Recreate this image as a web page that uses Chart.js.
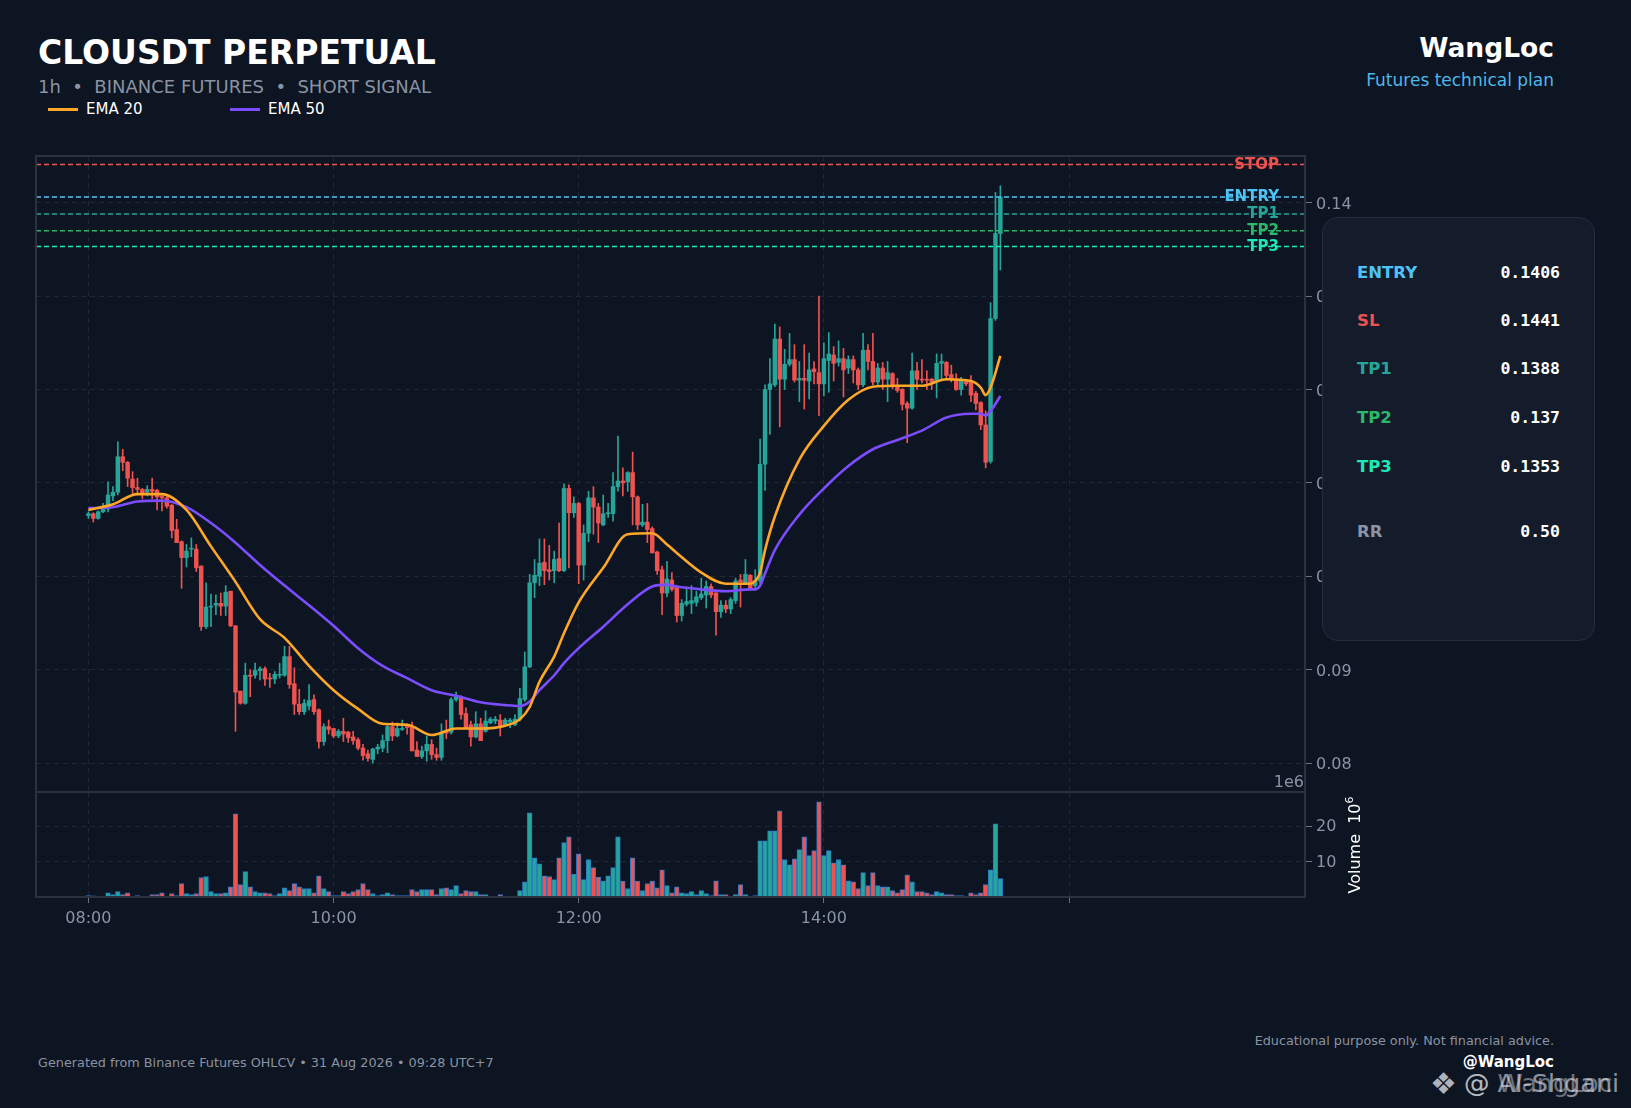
<!DOCTYPE html>
<html>
<head>
<meta charset="utf-8">
<script src="https://cdn.jsdelivr.net/npm/chart.js@4.4.1/dist/chart.umd.min.js"></script>
<style>
  html, body { margin: 0; padding: 0; background: #0d1422; width: 1631px; height: 1108px; overflow: hidden; font-family: 'DejaVu Sans', sans-serif; }
  .t { position: absolute; white-space: nowrap; line-height: 1; }
  .wrap { position: absolute; }
  #panel { position: absolute; left: 1322px; top: 217px; width: 273px; height: 424px; box-sizing: border-box;
           background: #141b2a; border: 1.5px solid #262e3e; border-radius: 16px; }
  #panel .row { position: absolute; left: 34px; right: 34px; height: 17px; font-size: 16.5px; font-weight: bold; line-height: 1; }
  #panel .row .v { position: absolute; right: 0; top: 0; color: #fff; font-family: 'DejaVu Sans Mono', monospace; }
  .leg { position: absolute; height: 3px; width: 30px; }
</style>
</head>
<body>

<div class="t" style="left:38px; top:36px; font-size:33px; font-weight:bold; color:#fff;">CLOUSDT PERPETUAL</div>
<div class="t" style="left:38px; top:78px; font-size:18px; color:#8b93a1;">1h&nbsp; •&nbsp; BINANCE FUTURES&nbsp; •&nbsp; SHORT SIGNAL</div>
<div class="leg" style="left:48px; top:108px; background:#ffa726;"></div>
<div class="t" style="left:86px; top:102px; font-size:15px; color:#fff;">EMA 20</div>
<div class="leg" style="left:230px; top:108px; background:#7c4dff;"></div>
<div class="t" style="left:268px; top:102px; font-size:15px; color:#fff;">EMA 50</div>

<div class="t" style="right:77px; top:35px; font-size:26.5px; font-weight:bold; color:#fff;">WangLoc</div>
<div class="t" style="right:77px; top:72px; font-size:17px; color:#4cb8ea;">Futures technical plan</div>

<div class="wrap" style="left:26px; top:150px;"><canvas id="price" width="1379" height="642"></canvas></div>
<div class="wrap" style="left:26px; top:792px;"><canvas id="vol" width="1379" height="145"></canvas></div>

<div class="t" style="right:327px; top:774px; font-size:16px; color:#8b94a5;">1e6</div>
<div class="t" style="left:1355px; top:845px; font-size:16px; color:#fff; transform:translate(-50%,-50%) rotate(-90deg);">Volume&nbsp; 10<span style="font-size:11px; position:relative; top:-7px;">6</span></div>

<div id="panel"></div>

<div class="t" style="left:38px; top:1057px; font-size:12.8px; color:#8b93a1;">Generated from Binance Futures OHLCV • 31 Aug 2026 • 09:28 UTC+7</div>
<div class="t" style="right:77px; top:1035px; font-size:12.8px; color:#8b93a1;">Educational purpose only. Not financial advice.</div>
<div class="t" style="right:77px; top:1055px; font-size:15px; font-weight:bold; color:#fff;">@WangLoc</div>
<div class="t" style="left:1430px; top:1069px; font-size:30px; color:rgba(230,232,238,0.75);">❖</div>
<div class="t" style="left:1464px; top:1071px; font-size:25.5px; color:rgba(230,232,238,0.6);">@ AI-Shgani</div>
<div class="t" style="left:1464px; top:1071px; font-size:25.5px; color:rgba(230,232,238,0.45);">@ WangLoc</div>

<script>
// candles (1 bar per step, index 0 = 08:00)
const opens = [
  0.1065,0.1067,0.1062,0.1069,0.1072,0.1086,0.1090,0.1128,0.1122,0.1104,
  0.1095,0.1093,0.1090,0.1093,0.1092,0.1086,0.1084,0.1076,0.1050,0.1037,
  0.1020,0.1029,0.1029,0.1011,0.0946,0.0967,0.0969,0.0971,0.0968,0.0984,
  0.0947,0.0877,0.0864,0.0894,0.0894,0.0899,0.0901,0.0891,0.0890,0.0894,
  0.0894,0.0914,0.0885,0.0863,0.0855,0.0861,0.0868,0.0857,0.0823,0.0839,
  0.0837,0.0829,0.0834,0.0833,0.0828,0.0825,0.0816,0.0810,0.0804,0.0815,
  0.0816,0.0824,0.0839,0.0829,0.0836,0.0840,0.0839,0.0814,0.0807,0.0813,
  0.0820,0.0809,0.0806,0.0834,0.0833,0.0868,0.0870,0.0853,0.0841,0.0828,
  0.0842,0.0834,0.0843,0.0845,0.0846,0.0841,0.0844,0.0841,0.0847,0.0868,
  0.0903,0.0993,0.1000,0.1015,0.1007,0.1006,0.1019,0.1006,0.1094,0.1068,
  0.1078,0.1012,0.1046,0.1084,0.1074,0.1055,0.1067,0.1067,0.1096,0.1102,
  0.1101,0.1111,0.1085,0.1055,0.1058,0.1051,0.1026,0.1007,0.0982,0.0996,
  0.0989,0.0958,0.0970,0.0971,0.0972,0.0977,0.0980,0.0989,0.0982,0.0962,
  0.0969,0.0965,0.0974,0.0996,0.0992,0.1001,0.0990,0.0995,0.1120,0.1200,
  0.1205,0.1254,0.1211,0.1227,0.1232,0.1210,0.1212,0.1209,0.1222,0.1218,
  0.1206,0.1231,0.1237,0.1229,0.1233,0.1223,0.1232,0.1221,0.1205,0.1242,
  0.1230,0.1208,0.1223,0.1211,0.1217,0.1204,0.1200,0.1185,0.1180,0.1220,
  0.1211,0.1211,0.1211,0.1209,0.1228,0.1229,0.1216,0.1211,0.1200,0.1210,
  0.1208,0.1196,0.1186,0.1162,0.1123,0.1276,0.1367
];
const highs = [
  0.1069,0.1068,0.1070,0.1078,0.1101,0.1096,0.1144,0.1136,0.1123,0.1112,
  0.1105,0.1094,0.1097,0.1105,0.1093,0.1086,0.1086,0.1077,0.1061,0.1038,
  0.1034,0.1041,0.1034,0.1011,0.0993,0.0981,0.0980,0.0982,0.0990,0.0984,
  0.0947,0.0877,0.0907,0.0900,0.0907,0.0903,0.0903,0.0896,0.0898,0.0907,
  0.0925,0.0925,0.0902,0.0879,0.0868,0.0884,0.0873,0.0858,0.0842,0.0846,
  0.0837,0.0836,0.0848,0.0834,0.0834,0.0827,0.0820,0.0814,0.0816,0.0820,
  0.0830,0.0841,0.0844,0.0843,0.0846,0.0842,0.0844,0.0823,0.0818,0.0829,
  0.0825,0.0816,0.0842,0.0846,0.0870,0.0876,0.0872,0.0859,0.0845,0.0855,
  0.0848,0.0856,0.0849,0.0850,0.0852,0.0848,0.0848,0.0852,0.0880,0.0919,
  0.1002,0.1018,0.1040,0.1040,0.1033,0.1027,0.1057,0.1099,0.1098,0.1085,
  0.1079,0.1055,0.1091,0.1096,0.1078,0.1087,0.1078,0.1111,0.1150,0.1116,
  0.1112,0.1133,0.1086,0.1077,0.1078,0.1053,0.1027,0.1011,0.1016,0.1004,
  0.0990,0.0975,0.0986,0.0990,0.0984,0.0998,0.0995,0.0992,0.0983,0.0974,
  0.0974,0.0977,0.0998,0.1002,0.1018,0.1002,0.1007,0.1147,0.1205,0.1233,
  0.1270,0.1267,0.1243,0.1260,0.1248,0.1230,0.1248,0.1239,0.1230,0.1300,
  0.1250,0.1261,0.1246,0.1252,0.1244,0.1236,0.1236,0.1223,0.1260,0.1248,
  0.1260,0.1228,0.1229,0.1230,0.1218,0.1212,0.1201,0.1187,0.1239,0.1229,
  0.1232,0.1220,0.1212,0.1238,0.1238,0.1230,0.1226,0.1217,0.1213,0.1211,
  0.1215,0.1198,0.1187,0.1177,0.1293,0.1411,0.1418
];
const lows = [
  0.1062,0.1058,0.1061,0.1068,0.1069,0.1081,0.1087,0.1113,0.1096,0.1087,
  0.1087,0.1083,0.1086,0.1083,0.1071,0.1070,0.1073,0.1041,0.1036,0.0987,
  0.1010,0.1021,0.1005,0.0942,0.0944,0.0946,0.0959,0.0958,0.0958,0.0946,
  0.0834,0.0863,0.0863,0.0871,0.0891,0.0889,0.0883,0.0881,0.0885,0.0891,
  0.0893,0.0880,0.0852,0.0852,0.0852,0.0857,0.0852,0.0816,0.0819,0.0831,
  0.0827,0.0827,0.0823,0.0822,0.0820,0.0814,0.0803,0.0802,0.0800,0.0810,
  0.0812,0.0811,0.0824,0.0828,0.0835,0.0831,0.0813,0.0807,0.0805,0.0802,
  0.0804,0.0803,0.0803,0.0826,0.0831,0.0866,0.0847,0.0837,0.0818,0.0827,
  0.0824,0.0833,0.0842,0.0842,0.0829,0.0839,0.0838,0.0840,0.0845,0.0866,
  0.0902,0.0977,0.0990,0.0991,0.0996,0.0993,0.1005,0.1005,0.1009,0.1063,
  0.0992,0.0996,0.1037,0.1045,0.1036,0.1054,0.1063,0.1059,0.1091,0.1086,
  0.1091,0.1055,0.1050,0.1053,0.1036,0.1025,0.1002,0.0959,0.0978,0.0984,
  0.0951,0.0952,0.0968,0.0960,0.0968,0.0975,0.0966,0.0977,0.0937,0.0956,
  0.0961,0.0960,0.0971,0.0967,0.0991,0.0986,0.0987,0.0992,0.1092,0.1152,
  0.1203,0.1160,0.1200,0.1225,0.1208,0.1187,0.1179,0.1190,0.1206,0.1172,
  0.1193,0.1197,0.1209,0.1225,0.1192,0.1217,0.1207,0.1200,0.1203,0.1221,
  0.1205,0.1203,0.1200,0.1187,0.1201,0.1197,0.1178,0.1143,0.1179,0.1200,
  0.1207,0.1200,0.1200,0.1191,0.1209,0.1210,0.1208,0.1199,0.1194,0.1204,
  0.1187,0.1178,0.1157,0.1116,0.1121,0.1274,0.1328
];
const closes = [
  0.1067,0.1062,0.1069,0.1072,0.1087,0.1090,0.1128,0.1122,0.1105,0.1095,
  0.1093,0.1089,0.1093,0.1091,0.1085,0.1084,0.1075,0.1049,0.1036,0.1020,
  0.1027,0.1030,0.1009,0.0946,0.0967,0.0968,0.0971,0.0968,0.0983,0.0947,
  0.0876,0.0864,0.0894,0.0893,0.0899,0.0901,0.0890,0.0890,0.0895,0.0895,
  0.0914,0.0884,0.0863,0.0855,0.0864,0.0867,0.0855,0.0823,0.0839,0.0836,
  0.0829,0.0834,0.0831,0.0827,0.0824,0.0816,0.0808,0.0805,0.0815,0.0817,
  0.0824,0.0839,0.0829,0.0837,0.0837,0.0838,0.0813,0.0807,0.0813,0.0820,
  0.0809,0.0806,0.0832,0.0832,0.0868,0.0871,0.0852,0.0837,0.0828,0.0842,
  0.0824,0.0845,0.0847,0.0847,0.0840,0.0846,0.0846,0.0847,0.0869,0.0903,
  0.0993,0.1001,0.1014,0.1006,0.1005,0.1018,0.1006,0.1094,0.1068,0.1078,
  0.1012,0.1046,0.1084,0.1074,0.1057,0.1067,0.1068,0.1096,0.1102,0.1100,
  0.1111,0.1085,0.1055,0.1058,0.1050,0.1025,0.1006,0.0982,0.0997,0.0986,
  0.0958,0.0971,0.0973,0.0974,0.0978,0.0981,0.0989,0.0980,0.0962,0.0969,
  0.0965,0.0975,0.0995,0.0994,0.1002,0.0987,0.0995,0.1120,0.1200,0.1206,
  0.1254,0.1211,0.1227,0.1232,0.1210,0.1212,0.1210,0.1221,0.1219,0.1206,
  0.1233,0.1238,0.1228,0.1233,0.1221,0.1232,0.1221,0.1205,0.1242,0.1230,
  0.1208,0.1223,0.1211,0.1218,0.1204,0.1199,0.1184,0.1180,0.1220,0.1211,
  0.1210,0.1210,0.1208,0.1228,0.1230,0.1215,0.1211,0.1200,0.1210,0.1206,
  0.1194,0.1185,0.1162,0.1122,0.1276,0.1367,0.1406
];
// volume in millions
const volumes = [
  0.4,0.3,0.1,0.2,1.2,0.7,1.5,0.7,1.2,0.2,
  0.4,0.2,0.2,0.7,0.7,1.2,0.2,1.0,0.4,3.8,
  1.0,0.7,1.0,5.5,5.8,1.5,1.0,1.0,1.2,2.9,
  23.5,3.5,7.2,2.9,1.5,1.2,1.2,1.0,0.4,1.0,
  2.6,1.8,3.8,2.9,2.4,2.4,1.2,6.0,2.4,1.5,
  0.4,0.4,1.5,1.0,1.5,2.1,3.8,2.1,1.0,0.4,
  0.7,1.2,0.7,0.4,0.4,0.4,2.1,1.5,2.1,2.1,
  2.1,0.7,2.4,2.6,2.1,3.2,1.0,1.8,1.5,1.5,
  0.7,0.7,0.1,0.1,0.7,0.1,0.1,0.1,1.8,4.3,
  23.8,11.1,9.4,6.0,5.8,4.9,11.1,15.4,17.0,6.4,
  12.2,4.9,10.6,8.3,5.6,4.5,6.0,8.3,17.0,4.5,
  2.4,11.1,4.5,1.8,3.8,4.5,2.6,7.7,3.2,1.2,
  2.9,1.2,1.0,1.5,0.7,1.8,1.0,0.4,4.6,0.7,
  0.7,0.1,0.7,3.5,0.7,0.1,0.4,15.9,15.9,18.7,
  18.7,24.4,10.6,9.1,10.8,13.4,17.0,11.7,13.1,26.9,
  11.7,13.1,9.7,10.6,9.1,4.6,4.3,2.4,6.9,3.2,
  6.9,3.2,2.9,2.9,1.8,1.2,2.1,6.3,4.3,1.5,
  1.5,1.2,0.7,1.5,1.2,0.7,0.7,0.4,0.4,0.1,
  1.2,0.7,1.2,3.5,7.7,20.7,5.2
];

// EMA values at these bar indexes
const emaIdx = [0,5,10,15,20,25,30,35,40,45,50,55,60,65,70,75,80,85,88,90,92,95,97,100,105,110,115,118,
                120,125,130,135,136,137,138,140,145,150,155,160,165,170,175,180,182,183,184,186];
const ema20 = [0.1071,0.1077,0.1088,0.1088,0.1071,0.1032,0.0994,0.0954,0.0934,0.0904,0.0878,0.0858,
               0.0842,0.0841,0.0830,0.0837,0.0837,0.0840,0.0847,0.0860,0.0887,0.0914,0.0939,0.0972,
               0.1009,0.1045,0.1046,0.1034,0.1025,0.1004,0.0992,0.0992,0.0995,0.1004,0.1028,0.1064,
               0.1125,0.1161,0.1189,0.1203,0.1204,0.1204,0.1211,0.1209,0.1202,0.1194,0.1202,0.1236];
const ema50 = [0.1073,0.1074,0.1080,0.1081,0.1074,0.1057,0.1036,0.1012,0.0990,0.0969,0.0947,0.0923,
               0.0904,0.0891,0.0878,0.0872,0.0865,0.0862,0.0861,0.0866,0.0878,0.0894,0.0907,0.0923,
               0.0946,0.0970,0.0989,0.0991,0.0989,0.0986,0.0984,0.0986,0.0986,0.0990,0.1003,0.1028,
               0.1066,0.1094,0.1118,0.1136,0.1146,0.1156,0.1170,0.1174,0.1174,0.1172,0.1177,0.1193];

const xTickIdx = [0, 50, 100, 150, 200];
const xTickText = ['08:00', '10:00', '12:00', '14:00', ''];
const priceTicks = [0.08, 0.09, 0.10, 0.11, 0.12, 0.13, 0.14];
const volTicks = [10, 20];

const levelNames = ['STOP', 'ENTRY', 'TP1', 'TP2', 'TP3'];
const levelPrices = [0.1441, 0.1406, 0.1388, 0.137, 0.1353];
const levelColors = ['#ef5350', '#4fc3f7', '#26a69a', '#2bb86a', '#1de9b6'];

const panelNames = ['ENTRY', 'SL', 'TP1', 'TP2', 'TP3', 'RR'];
const panelValues = ['0.1406', '0.1441', '0.1388', '0.137', '0.1353', '0.50'];
const panelColors = ['#4fc3f7', '#ef5350', '#26a69a', '#2bb86a', '#1de9b6', '#8b94a5'];
const panelTops = [47, 95, 143, 192, 241, 306];

// info panel
const panel = document.getElementById('panel');
panelNames.forEach((name, k) => {
    const row = document.createElement('div');
    row.className = 'row';
    row.style.top = panelTops[k] + 'px';
    row.style.color = panelColors[k];
    row.innerHTML = `${name}<span class="v">${panelValues[k]}</span>`;
    panel.appendChild(row);
});

const UP = '#26a69a', DOWN = '#ef5350';
const GRID = '#1f2837';
const TICK = '#8b94a5';
const X_MIN = -10.69, X_MAX = 248.13;
const idx = closes.map((c, i) => i);
const candleColors = idx.map(i => closes[i] >= opens[i] ? UP : DOWN);

Chart.defaults.font.family = "'DejaVu Sans', sans-serif";

// fixed axis sizes so both panels line up exactly
const fixWidth = w => s => { s.width = w; s.paddingTop = 0; s.paddingBottom = 0; };
const fixHeight = h => s => { s.height = h; s.paddingLeft = 0; s.paddingRight = 0; };
const setTicks = list => s => { s.ticks = list.map(v => ({ value: v })); };

const framePlugin = {
    id: 'frame',
    afterDraw(chart) {
        const a = chart.chartArea, c = chart.ctx;
        c.save();
        c.strokeStyle = '#2b313d';
        c.lineWidth = 2;
        c.strokeRect(a.left, a.top, a.right - a.left, a.bottom - a.top);
        c.restore();
    }
};

const levelPlugin = {
    id: 'levels',
    afterDatasetsDraw(chart) {
        const { ctx, chartArea: a, scales: { y } } = chart;
        ctx.save();
        levelPrices.forEach((p, k) => {
            const py = y.getPixelForValue(p);
            ctx.fillStyle = levelColors[k];
            ctx.font = "bold 15px 'DejaVu Sans'";
            ctx.textAlign = 'right';
            ctx.textBaseline = 'middle';
            ctx.fillText(levelNames[k], a.right - 26, py + 0.5);
            ctx.strokeStyle = levelColors[k];
            ctx.lineWidth = 1.5;
            ctx.setLineDash([5, 3]);
            ctx.beginPath();
            ctx.moveTo(a.left, py);
            ctx.lineTo(a.right, py);
            ctx.stroke();
        });
        ctx.restore();
    }
};

const tickFont = { family: "'DejaVu Sans'", size: 16 };

new Chart(document.getElementById('price'), {
    type: 'bar',
    data: {
        datasets: [
            { type: 'line', label: 'EMA 20', data: emaIdx.map((x, k) => ({ x, y: ema20[k] })),
              borderColor: '#ffa726', borderWidth: 2.6, pointRadius: 0, cubicInterpolationMode: 'monotone', order: 0 },
            { type: 'line', label: 'EMA 50', data: emaIdx.map((x, k) => ({ x, y: ema50[k] })),
              borderColor: '#7c4dff', borderWidth: 2.6, pointRadius: 0, cubicInterpolationMode: 'monotone', order: 1 },
            { label: 'body', data: idx.map(i => ({ x: i, y: [opens[i], closes[i]] })),
              backgroundColor: candleColors, barThickness: 3.8, minBarLength: 1, grouped: false, order: 2 },
            { label: 'wick', data: idx.map(i => ({ x: i, y: [lows[i], highs[i]] })),
              backgroundColor: candleColors, barThickness: 1, grouped: false, order: 3 }
        ]
    },
    options: {
        responsive: false,
        animation: false,
        events: [],
        layout: { autoPadding: false, padding: { left: 10, top: 6, right: 0, bottom: 0 } },
        plugins: { legend: { display: false }, tooltip: { enabled: false } },
        scales: {
            x: {
                type: 'linear', min: X_MIN, max: X_MAX, offset: false,
                afterBuildTicks: setTicks(xTickIdx),
                ticks: { display: false },
                grid: { color: GRID, drawTicks: false, offset: false },
                border: { display: false, dash: [5, 4] },
                afterFit: fixHeight(0)
            },
            y: {
                type: 'linear', position: 'right', min: 0.0769, max: 0.1450,
                afterBuildTicks: setTicks(priceTicks),
                ticks: { color: TICK, font: tickFont, padding: 4, labelOffset: 2, callback: v => v.toFixed(2) },
                grid: { color: GRID, tickColor: '#6b7385', tickLength: 7 },
                border: { display: false, dash: [5, 4] },
                afterFit: fixWidth(100)
            }
        }
    },
    plugins: [levelPlugin, framePlugin]
});

new Chart(document.getElementById('vol'), {
    type: 'bar',
    data: {
        datasets: [{
            label: 'Volume',
            data: idx.map(i => ({ x: i, y: volumes[i] })),
            backgroundColor: candleColors,
            borderColor: '#2a78c8',
            borderWidth: 1,
            barThickness: 4.7,
            grouped: false
        }]
    },
    options: {
        responsive: false,
        animation: false,
        events: [],
        layout: { autoPadding: false, padding: { left: 10, top: 0, right: 0, bottom: 0 } },
        plugins: { legend: { display: false }, tooltip: { enabled: false } },
        scales: {
            x: {
                type: 'linear', min: X_MIN, max: X_MAX, offset: false,
                afterBuildTicks: setTicks(xTickIdx),
                ticks: { color: TICK, font: tickFont, padding: 6, maxRotation: 0, autoSkip: false,
                         callback: v => xTickText[xTickIdx.indexOf(v)] || '' },
                grid: { color: GRID, tickColor: '#6b7385', tickLength: 6, offset: false },
                border: { display: false, dash: [5, 4] },
                afterFit: fixHeight(40)
            },
            y: {
                type: 'linear', position: 'right', min: 0, max: 29.7,
                afterBuildTicks: setTicks(volTicks),
                ticks: { color: TICK, font: tickFont, padding: 4, labelOffset: 1, callback: v => String(v) },
                grid: { color: GRID, tickColor: '#6b7385', tickLength: 7 },
                border: { display: false, dash: [5, 4] },
                afterFit: fixWidth(100)
            }
        }
    },
    plugins: [framePlugin]
});
</script>
</body>
</html>
